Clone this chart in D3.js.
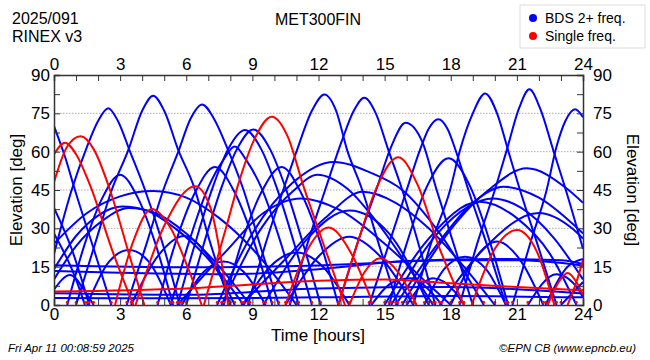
<!DOCTYPE html>
<html><head><meta charset="utf-8">
<script src="https://cdn.jsdelivr.net/npm/d3@7"></script>
<style>body{margin:0;background:#fff}svg{display:block;font-family:"Liberation Sans",Arial,sans-serif}</style>
</head><body><svg id="c" width="650" height="360"></svg>
<script>
// ---- data ----
const hourTicks = [0,3,6,9,12,15,18,21,24];
const elevTicks = [0,15,30,45,60,75,90];
const legendLabels = ["BDS 2+ freq.","Single freq."];
const titleLines = ["2025/091","RINEX v3"];
const stationName = "MET300FIN";

// blue MEO passes [hour, elevation]
const meoBlue = [
 [[0,70],[0.5,58],[0.95,45],[1.8,22],[2.6,0]],
 [[0,20],[0.8,45],[1.5,62],[2.0,72],[2.46,77],[2.9,72],[3.45,60],[4.13,45],[5.0,22],[5.7,0]],
 [[1.0,0],[1.9,25],[2.62,45],[3.37,60.6],[4.0,76],[4.5,81.9],[5.0,76],[5.64,60.6],[6.32,47],[7.1,24],[8.0,0]],
 [[3.3,0],[4.2,24],[4.96,45],[5.64,60],[6.2,73],[6.72,78.5],[7.25,73],[7.9,60.6],[8.6,45],[9.4,22],[10.2,0]],
 [[8.8,0],[9.6,24],[10.4,45],[11.0,60],[11.7,76],[12.27,82.4],[12.8,76],[13.3,60.6],[13.96,45.6],[14.8,22],[15.6,0]],
 [[10.7,0],[11.5,24],[12.3,45],[13.05,64],[13.6,76],[14.08,81.1],[14.6,75],[15.17,60.6],[15.8,45],[16.6,22],[17.3,0]],
 [[12.9,0],[13.8,25],[14.64,45.6],[15.3,62],[15.95,71.3],[16.7,64],[17.36,45],[18.2,22],[19.0,0]],
 [[14.3,0],[15.2,24],[16.0,45],[16.6,60.6],[17.0,69],[17.44,72.7],[17.85,69],[18.27,59.3],[18.8,45],[19.7,22],[20.5,0]],
 [[16.3,0],[17.1,24],[17.97,45],[18.42,60.6],[19.0,75],[19.56,82.8],[20.1,75],[20.6,60.6],[21.14,45],[22.0,22],[22.8,0]],
 [[18.4,0],[19.2,24],[20.0,45],[20.54,60.6],[21.1,77],[21.57,84.4],[22.05,77],[22.65,60.6],[23.2,45.6],[24,22]],
 [[20.8,0],[21.6,24],[22.35,45],[22.8,62],[23.2,72],[23.64,76.6],[24,73.5]],
 [[0.6,0],[1.4,24],[2.2,42],[3.0,51],[3.8,42],[4.6,24],[5.4,0]],
 [[4.7,0],[5.5,24],[6.4,44],[7.3,54],[8.2,44],[9.1,24],[9.9,0]],
 [[5.3,0],[6.1,24],[7.0,46],[7.7,57],[8.2,62],[8.7,57],[9.4,46],[10.3,24],[11.1,0]],
 [[5.6,0],[6.4,24],[7.2,46],[7.9,61],[8.67,68.5],[9.4,61],[10.1,46],[10.9,24],[11.7,0]],
 [[6.0,0],[6.8,24],[7.6,46],[8.3,61],[9.04,68.7],[9.8,61],[10.5,46],[11.3,24],[12.1,0]],
 [[7.7,0],[8.5,24],[9.4,44],[10.33,54],[11.2,44],[12.1,24],[12.9,0]],
 [[15.2,0],[16.0,24],[16.9,46],[17.9,57.4],[18.9,46],[19.8,24],[20.6,0]],
 [[0,38],[0.8,22],[1.6,0]],
 [[0,28],[1.0,10],[1.4,0]],
 [[0,6],[0.73,11.7],[1.5,4],[1.8,0]],
 [[1.5,0],[2.5,17],[3.4,21.5],[4.3,17],[5.3,0]],
 [[3.5,0],[4.7,19],[5.9,27],[7.0,19],[8.2,0]],
 [[5.8,0],[6.8,13],[7.7,17],[8.6,13],[9.6,0]],
 [[8.6,0],[9.8,15],[11.0,20.5],[12.2,15],[13.4,0]],
 [[10.5,0],[12,19],[13.4,26.7],[14.8,19],[16.3,0]],
 [[16.8,0],[17.7,14],[18.65,18.9],[19.6,14],[20.5,0]],
 [[14.4,0],[15.4,9],[16.2,10.5],[17,6],[17.6,0]],
 [[16,0],[17.2,10.5],[18.2,5],[18.6,0]],
 [[18,0],[19,17],[20.1,24.8],[21.2,17],[22.2,0]],
 [[22.3,0],[23.3,15],[24,18]],
 [[21.5,0],[22.8,12],[23.8,6],[24,3]],
 [[23.0,0],[24,9]]
];
// blue IGSO passes
const igsoBlue = [
 [[0,24],[1.5,36],[3,42.5],[4.5,44.6],[6,42],[7.5,34],[9,22],[10.5,6],[11,0]],
 [[0,14],[1,27],[2,35],[3.1,38.5],[4.2,37],[5.5,30],[7,18],[8.6,0]],
 [[0,10],[1,23],[2.2,33],[3.4,38],[4.6,36],[6,28],[7.5,15],[8.9,0]],
 [[5.6,0],[7.8,21],[9.5,36],[11.2,41.7],[13,37],[15,24],[17,8],[18,0]],
 [[7.4,0],[9,28],[10.8,47.6],[12.7,56],[14.3,52],[15.8,45],[17.5,28],[19.5,0]],
 [[7.6,0],[9.4,30],[10.9,45],[11.95,51],[13.3,45.6],[14.6,33],[16.3,12],[17.2,0]],
 [[8.5,0],[10.5,18],[12.3,34],[14,44.3],[15.5,40],[17,30],[18.5,16],[20,0]],
 [[9.5,0],[11.5,26],[13.4,37],[15.2,28],[17,0]],
 [[15.8,0],[17.6,25],[19.8,45.6],[21.45,53.5],[23.26,45.6],[24,40]],
 [[15.5,0],[17.5,25],[19,40],[20.4,46.3],[22,42],[23.5,32],[24,28]],
 [[15.3,0],[17.4,28],[18.8,38.5],[19.9,41.7],[21.2,38],[22.7,26],[24,10]],
 [[15,0],[17,26],[19.3,40.4],[21,34],[22.5,20],[23.7,0]],
 [[17.5,0],[19.5,22],[22,36],[23.5,30],[24,26]]
];
// blue GEO tracks
const geoBlue = [
 [[0,15.6],[6,14.8],[12,15.5],[18,17.5],[21,17.5],[24,15.5]],
 [[0,13.3],[8,12],[12,14],[16,17.2],[20,18],[23,17.5],[24,16]],
 [[0,4.6],[6,4],[12,6.5],[18,7],[24,4.5]],
 [[0,2.7],[6,2.6],[12,3],[18,3.5],[24,3]]
];
// single-frequency (red) tracks
const redArcs = [
 [[0,5.3],[6,6.5],[12,9.5],[15,10],[18,8.5],[21,7],[24,5.8]],
 [[0,59],[0.5,63.5],[1.0,59],[1.63,47],[2.7,20],[3.6,0]],
 [[0,48],[0.6,62],[1.21,66],[1.8,61],[2.54,45],[3.4,20],[4.1,0]],
 [[2.77,0],[3.6,25],[4.43,37.6],[5.3,30],[6.1,14],[6.7,0]],
 [[3.7,0],[5.0,31],[6.4,46.5],[7.1,38],[7.9,0]],
 [[6.8,0],[7.8,30],[8.35,47],[9.1,65],[9.88,73.7],[10.6,66],[11.3,47],[12.3,22],[13.2,0]],
 [[10.5,0],[11.4,20],[12.45,30.3],[13.5,20],[14.4,2]],
 [[12.9,0],[13.8,25],[14.64,46],[15.62,57.8],[16.5,47],[17.5,22],[18.6,0]],
 [[13.4,0],[14.1,13],[14.8,18.3],[15.6,13],[16.45,0]],
 [[18.95,0],[20,22],[21,29.3],[21.9,21],[22.7,0]],
 [[22.4,0],[22.9,9],[23.3,12.5],[23.7,9],[24,4]],
 [[23.3,0],[23.7,9],[24,17.6]]
];

// ---- drawing ----
const svg = d3.select("#c");
const x = d3.scaleLinear().domain([0,24]).range([54,583]);
const y = d3.scaleLinear().domain([0,90]).range([305,75]);
const blue = "#0000ff", red = "#ff0000";

svg.append("defs").append("clipPath").attr("id","clip")
  .append("rect").attr("x",54).attr("y",75).attr("width",529).attr("height",230);

// gridlines
svg.append("g").selectAll("line").data(elevTicks.filter(d=>d>0&&d<90)).join("line")
  .attr("x1",x(0)).attr("x2",x(24)).attr("y1",d=>y(d)).attr("y2",d=>y(d))
  .attr("stroke","#aaa").attr("stroke-width",1).attr("stroke-dasharray","1.5,1.5");

const line = d3.line().x(d=>x(d[0])).y(d=>y(d[1])).curve(d3.curveMonotoneX);
const plot = svg.append("g").attr("clip-path","url(#clip)");
const blueAll = meoBlue.concat(igsoBlue, geoBlue);
plot.append("g").selectAll("path").data(blueAll).join("path")
  .attr("d",line).attr("fill","none").attr("stroke",blue).attr("stroke-width",2);
plot.append("g").selectAll("path").data(redArcs).join("path")
  .attr("d",line).attr("fill","none").attr("stroke",red).attr("stroke-width",2);
// low-elevation end markers
const ends = [];
meoBlue.concat(igsoBlue).forEach(a=>{[a[0],a[a.length-1]].forEach(p=>{if(p[1]===0) ends.push(p);});});
plot.append("g").selectAll("circle").data(ends).join("circle")
  .attr("cx",d=>x(d[0])).attr("cy",d=>y(1)).attr("r",1.4).attr("fill",red);

// axes
const hours = d3.range(0,25);
const minorE = d3.range(0,91,7.5);
const fmtH = d=> d%3===0 ? d : "";
const axB = svg.append("g").attr("transform","translate(0,305)")
  .call(d3.axisBottom(x).tickValues(hours).tickSize(-6).tickPadding(5).tickFormat(fmtH));
const axT = svg.append("g").attr("transform","translate(0,75)")
  .call(d3.axisTop(x).tickValues(hours).tickSize(-6).tickPadding(5).tickFormat(fmtH));
const fmtE = d=> elevTicks.includes(d) ? d : "";
const axL = svg.append("g").attr("transform","translate(54,0)")
  .call(d3.axisLeft(y).tickValues(minorE).tickSize(-6).tickPadding(4).tickFormat(fmtE));
const axR = svg.append("g").attr("transform","translate(583,0)")
  .call(d3.axisRight(y).tickValues(minorE).tickSize(-6).tickPadding(10).tickFormat(fmtE));
[axB,axT,axL,axR].forEach(g=>{
  g.selectAll("text").attr("font-size",17).attr("fill","#000").attr("font-family","Liberation Sans, Arial, sans-serif");
  g.select(".domain").attr("stroke","#333").attr("stroke-width",1.5);
  g.selectAll(".tick line").attr("stroke","#333");
});
axB.selectAll("text").attr("dy","0.6em");

// axis titles
svg.append("text").attr("x",318).attr("y",341).attr("text-anchor","middle").attr("font-size",17).text("Time [hours]");
svg.append("text").attr("transform","translate(22,190) rotate(-90)").attr("text-anchor","middle").attr("font-size",17).text("Elevation [deg]");
svg.append("text").attr("transform","translate(627,190) rotate(90)").attr("text-anchor","middle").attr("font-size",17).text("Elevation [deg]");

// titles
svg.append("text").attr("x",12).attr("y",24).attr("font-size",16).text(titleLines[0]);
svg.append("text").attr("x",12).attr("y",42).attr("font-size",16).text(titleLines[1]);
svg.append("text").attr("x",318).attr("y",25).attr("text-anchor","middle").attr("font-size",16).text(stationName);

// legend
svg.append("rect").attr("x",520).attr("y",5).attr("width",125).attr("height",43).attr("fill","#fff").attr("stroke","#ddd");
const lg = svg.append("g").selectAll("g").data(legendLabels).join("g")
  .attr("transform",(d,i)=>`translate(533,${18+i*18})`);
lg.append("circle").attr("r",4).attr("fill",(d,i)=>i?red:blue);
lg.append("text").attr("x",12).attr("y",5).attr("font-size",14).text(d=>d);

// footer
svg.append("text").attr("x",8).attr("y",352).attr("font-size",11.5).attr("font-style","italic").text("Fri Apr 11 00:08:59 2025");
svg.append("text").attr("x",636).attr("y",352).attr("text-anchor","end").attr("font-size",11.5).attr("font-style","italic").text("©EPN CB (www.epncb.eu)");
</script></body></html>
